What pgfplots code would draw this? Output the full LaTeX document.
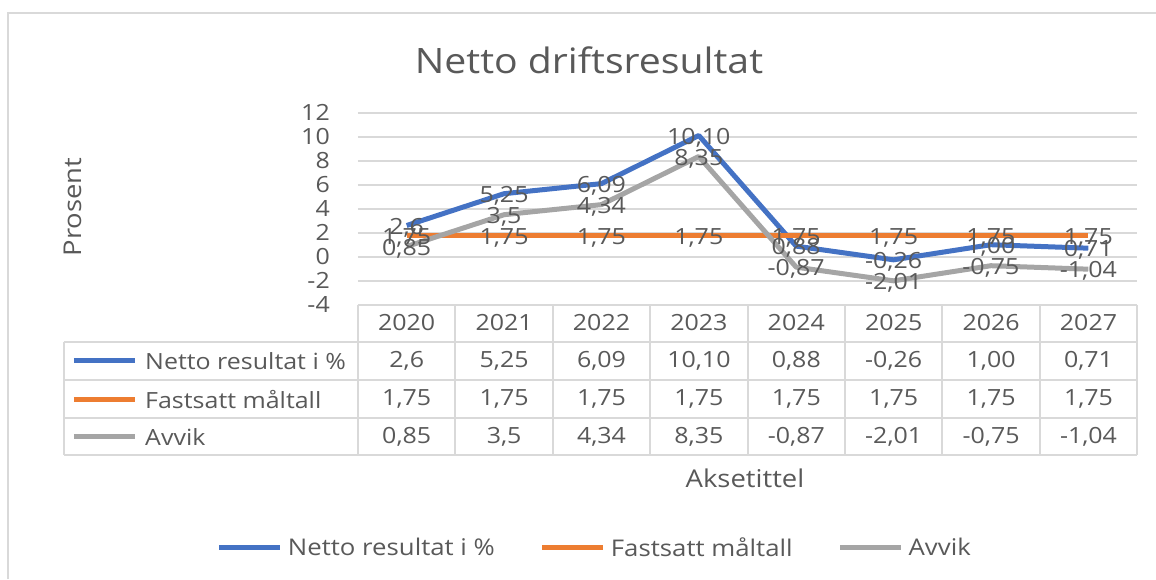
\documentclass[border=0pt]{standalone}
\usepackage{pgfplots}
\pgfplotsset{compat=1.18}
\usepackage{pgfplotstable}
\usepackage{fontspec}
\setmainfont{Open Sans}[FakeStretch=1.12]
\definecolor{cblue}{HTML}{4472C4}
\definecolor{corange}{HTML}{ED7D31}
\definecolor{cgray}{HTML}{A5A5A5}
\definecolor{txt}{HTML}{595959}
\definecolor{grd}{HTML}{D9D9D9}
\newcommand{\bodyfont}{\fontsize{22.3}{26}\selectfont}
\newcommand{\legfont}{\fontsize{23}{27}\selectfont}
\newcommand{\atitlefont}{\fontsize{24.5}{29}\selectfont}

\pgfplotstableread{
x y lab
0 2.6 2,6
1 5.25 5,25
2 6.09 6,09
3 10.10 10,10
4 0.88 0,88
5 -0.26 -0,26
6 1.00 1,00
7 0.71 0,71
}\netto
\pgfplotstableread{
x y lab
0 1.75 1,75
1 1.75 1,75
2 1.75 1,75
3 1.75 1,75
4 1.75 1,75
5 1.75 1,75
6 1.75 1,75
7 1.75 1,75
}\maltall
\pgfplotstableread{
x y lab
0 0.85 0,85
1 3.5 3,5
2 4.34 4,34
3 8.35 8,35
4 -0.87 -0,87
5 -2.01 -2,01
6 -0.75 -0,75
7 -1.04 -1,04
}\avvik

\begin{document}
\begin{tikzpicture}[x=1pt,y=1pt]
\begin{axis}[
  scale only axis, width=779pt, height=192pt,
  xmin=-0.5, xmax=7.5, ymin=-4, ymax=12,
  xtick=\empty,
  ytick={-4,-2,0,2,4,6,8,10,12},
  yticklabels={-4,-2,0,2,4,6,8,10,12},
  yticklabel style={anchor=east, inner sep=0pt, xshift=-28pt, font=\bodyfont, text=txt},
  axis line style={draw=none},
  major tick length=0pt,
  ymajorgrids, grid style={grd, line width=2pt},
  clip=false,
  legend columns=3,
  legend style={at={(axis description cs:0.306,-1.267)}, anchor=center,
    draw=none, fill=none, font=\legfont, text=txt,
    nodes={inner xsep=5pt},
    /tikz/every even column/.append style={column sep=40pt}},
  legend image code/.code={\draw[line width=5pt] (0pt,0pt) -- (61pt,0pt);},
  every node near coord/.style={anchor=center, font=\bodyfont, text=txt, inner sep=0pt, yshift=-2pt},
  nodes near coords, point meta=explicit symbolic,
]
\coordinate (axorigin) at (axis cs:-0.5,-4);
\addplot[cblue, line width=5pt, line join=round] table[x=x, y=y, meta=lab] {\netto};
\addlegendentry{Netto resultat i \%}
\addplot[corange, line width=5pt, line join=round] table[x=x, y=y, meta=lab] {\maltall};
\addlegendentry{Fastsatt måltall}
\addplot[cgray, line width=5pt, line join=round] table[x=x, y=y, meta=lab] {\avvik};
\addlegendentry{Avvik}
\end{axis}

\begin{scope}[shift={(axorigin)}]
\begin{scope}[shift={(-358,-274.3)}]
% chart border
\draw[grd, line width=2pt] (8,0) -- (8,{579-13}) -- (1156,{579-13});
% title
\node[txt, font=\fontsize{35}{40}\selectfont] at (589,{579-60}) {Netto driftsresultat};
% y axis title
\node[txt, font=\atitlefont, rotate=90] at (73,{579-207}) {Prosent};
% x axis title
\node[txt, font=\atitlefont] at (745,{579-478}) {Aksetittel};
% data table
\begin{scope}[grd, line width=2pt]
\draw (358,{579-305}) -- (1137,{579-305});
\foreach \yy in {341.7,380,418.3,455} \draw (64,{579-\yy}) -- (1137,{579-\yy});
\draw (64,{579-341.7}) -- (64,{579-455});
\foreach \k in {0,...,8} \draw ({358+97.4*\k},{579-305}) -- ({358+97.4*\k},{579-455});
\end{scope}
\begin{scope}[every node/.style={font=\bodyfont, text=txt}]
\foreach \yr [count=\i from 0] in {2020,2021,2022,2023,2024,2025,2026,2027}
  \node at ({406.7+97.4*\i},{579-323}) {\yr};
\foreach \v [count=\i from 0] in {{2,6},{5,25},{6,09},{10,10},{0,88},{-0,26},{1,00},{0,71}}
  \node at ({406.7+97.4*\i},{579-360.9}) {\v};
\foreach \v [count=\i from 0] in {{1,75},{1,75},{1,75},{1,75},{1,75},{1,75},{1,75},{1,75}}
  \node at ({406.7+97.4*\i},{579-399.1}) {\v};
\foreach \v [count=\i from 0] in {{0,85},{3,5},{4,34},{8,35},{-0,87},{-2,01},{-0,75},{-1,04}}
  \node at ({406.7+97.4*\i},{579-436.7}) {\v};
\draw[cblue, line width=5pt] (74,{579-360.9}) -- (135,{579-360.9});
\draw[corange, line width=5pt] (74,{579-399.1}) -- (135,{579-399.1});
\draw[cgray, line width=5pt] (74,{579-436.7}) -- (135,{579-436.7});
\node[anchor=west, inner sep=0pt] at (145,{579-360.9}) {Netto resultat i \%};
\node[anchor=west, inner sep=0pt] at (145,{579-399.1}) {Fastsatt måltall};
\node[anchor=west, inner sep=0pt] at (145,{579-436.7}) {Avvik};
\end{scope}
\pgfresetboundingbox
\path (0,0) rectangle (1156,579);
\end{scope}
\end{scope}
\end{tikzpicture}
\end{document}
